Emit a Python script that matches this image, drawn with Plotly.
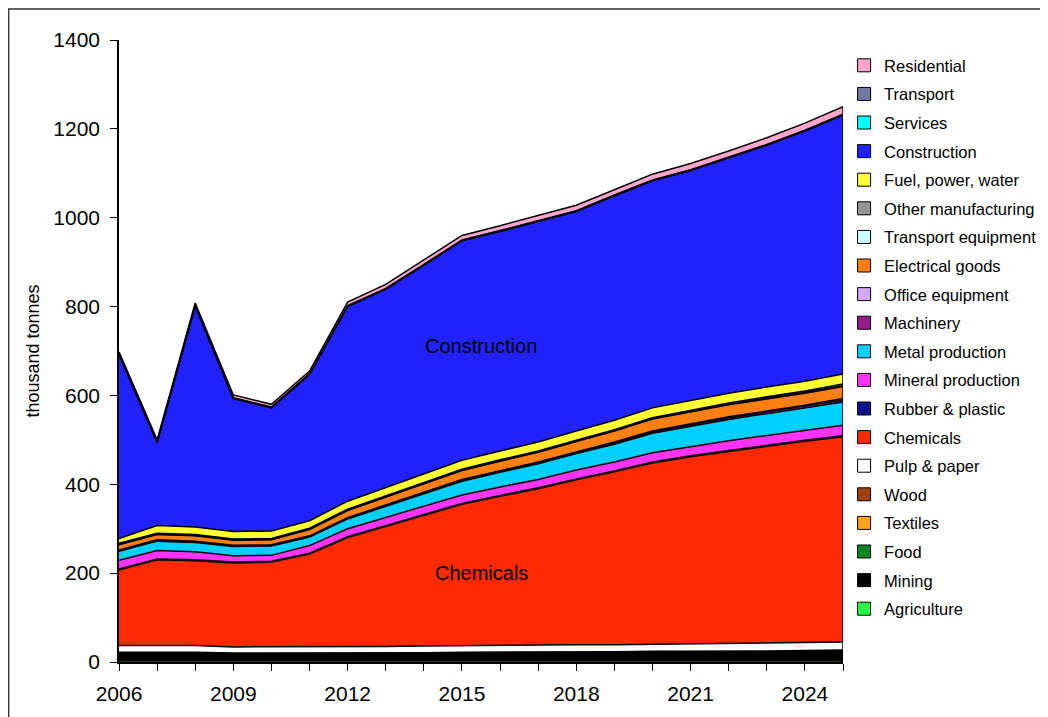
import plotly.graph_objects as go

years = list(range(2006, 2026))

agriculture = [2] * 20
mining = [17, 17, 17, 15, 15, 15, 15, 16, 16, 17, 17, 18, 18, 18, 19, 19, 20, 20, 21, 22]
food = [1.5] * 20
textiles = [0.5] * 20
wood = [1] * 20
pulp_paper = [15, 15, 15, 14, 14, 14, 14, 14, 15, 15, 15, 15, 16, 16, 16, 16, 17, 17, 17, 18]
chemicals = [170, 193, 191, 189, 191, 209, 246, 270, 294, 318, 336, 352, 371, 389, 408, 422, 432, 444, 454, 462]
rubber_plastic = [2] * 20
mineral = [20, 19, 18, 14, 13, 17, 18, 18, 18, 19, 19, 19, 20, 20, 21, 21, 22, 22, 23, 24]
metal = [20, 21, 21, 21, 21, 19, 22, 25, 28, 31, 33, 35, 37, 40, 44, 46, 48, 49, 50, 52]
machinery = [2, 2, 2, 2, 2, 2, 2, 2, 3, 3, 3, 3, 3, 3, 3, 3, 4, 4, 4, 5]
office_eq = [1, 1, 1, 1, 1, 1, 1, 1, 1, 1, 1, 1, 1, 2, 2, 2, 2, 2, 2, 3]
electrical = [12, 12, 12, 11, 11, 14, 16, 18, 19, 20, 21, 22, 23, 25, 27, 27, 27, 27, 27, 27]
transport_eq = [1, 1, 1, 1, 1, 1, 1, 1, 1, 1, 1, 1, 1, 1, 1, 1, 1, 2, 2, 2]
other_manuf = [2, 2, 2, 2, 2, 2, 2, 2, 2, 2, 2, 2, 2, 2, 2, 2, 3, 3, 3, 4]
fuel = [11, 17, 17, 17, 17, 17, 18, 19, 19, 20, 20, 20, 21, 21, 22, 22, 22, 22, 22, 22]
construction = [414, 187, 497, 299, 277, 329, 438, 446, 470, 494, 494, 497, 494, 505, 511, 518, 529, 544, 563, 583]
services = [1] * 20
transport = [1] * 20
residential = [4, 4, 5, 6, 6, 6, 8, 9, 10, 10, 11, 11, 12, 12, 13, 14, 14, 15, 16, 17]

series = [
    ("Agriculture", agriculture, "#22FF44"),
    ("Mining", mining, "#000000"),
    ("Food", food, "#0A8A1E"),
    ("Textiles", textiles, "#FFA31A"),
    ("Wood", wood, "#A5420C"),
    ("Pulp & paper", pulp_paper, "#FFFFFF"),
    ("Chemicals", chemicals, "#FF2A00"),
    ("Rubber & plastic", rubber_plastic, "#0C108C"),
    ("Mineral production", mineral, "#FF33FF"),
    ("Metal production", metal, "#00D0FF"),
    ("Machinery", machinery, "#931C8E"),
    ("Office equipment", office_eq, "#D2A8F8"),
    ("Electrical goods", electrical, "#FF7F11"),
    ("Transport equipment", transport_eq, "#CCFFFF"),
    ("Other manufacturing", other_manuf, "#969696"),
    ("Fuel, power, water", fuel, "#FFFF33"),
    ("Construction", construction, "#2222FF"),
    ("Services", services, "#00FFFF"),
    ("Transport", transport, "#7777AA"),
    ("Residential", residential, "#FFA6CC"),
]

FONT = "Liberation Sans, Arial, sans-serif"

fig = go.Figure()
for name, vals, col in series:
    fig.add_trace(go.Scatter(
        x=years, y=vals, name=name, stackgroup="one", mode="lines",
        line=dict(color="#000000", width=1.5), fillcolor=col,
        showlegend=False, hoverinfo="x+y+name",
    ))

# right-hand closing edge of the stacked area
total_last = sum(vals[-1] for _, vals, _ in series)
fig.add_trace(go.Scatter(x=[years[-1], years[-1]], y=[0, total_last], mode="lines",
                         line=dict(color="#000000", width=1.5), showlegend=False,
                         hoverinfo="skip"))

# legend entries with square symbols (top series first)
for name, vals, col in reversed(series):
    fig.add_trace(go.Scatter(
        x=[None], y=[None], mode="markers", name=name, legendgroup=name,
        marker=dict(symbol="square", size=13, color=col, line=dict(color="#000000", width=1)),
        showlegend=True,
    ))

fig.add_annotation(x=2015.5, y=711, text="Construction", showarrow=False,
                   font=dict(family=FONT, size=20, color="#000000"))
fig.add_annotation(x=2015.5, y=200, text="Chemicals", showarrow=False,
                   font=dict(family=FONT, size=20, color="#000000"))

# outer chart border
fig.add_shape(type="rect", xref="paper", yref="paper",
              x0=-0.1525, x1=1.3, y0=-0.12, y1=1.0498,
              line=dict(color="#333333", width=1.5), fillcolor="rgba(0,0,0,0)", layer="below")

fig.update_layout(
    width=1040, height=709,
    margin=dict(l=111, r=205, t=32, b=55, autoexpand=False),
    paper_bgcolor="#FFFFFF", plot_bgcolor="#FFFFFF",
    font=dict(family=FONT, size=20, color="#000000"),
    showlegend=True,
    legend=dict(
        x=1.0015, xanchor="left", y=0.987, yanchor="top",
        traceorder="grouped", tracegroupgap=4.15,
        font=dict(family=FONT, size=16.5, color="#000000"),
        bgcolor="rgba(0,0,0,0)", itemclick=False,
    ),
    xaxis=dict(
        range=[2006, 2025], tickmode="array", tickvals=[2006, 2009, 2012, 2015, 2018, 2021, 2024],
        ticktext=["2006", "2009", "2012", "2015", "2018", "2021", "2024"],
        ticks="outside", ticklen=7, tickcolor="#000000", tickwidth=1,
        ticklabelstandoff=5,
        minor=dict(tickmode="linear", dtick=1, tick0=2006, ticks="outside", ticklen=7,
                   tickcolor="#000000", tickwidth=1, showgrid=False),
        showline=True, linecolor="#000000", linewidth=1.5,
        showgrid=False, zeroline=False,
        tickfont=dict(family=FONT, size=21, color="#000000"),
    ),
    yaxis=dict(
        range=[0, 1400], dtick=200, tick0=0,
        ticks="outside", ticklen=7, tickcolor="#000000", tickwidth=1,
        ticklabelstandoff=6,
        showline=True, linecolor="#000000", linewidth=1.5,
        showgrid=False, zeroline=False,
        tickfont=dict(family=FONT, size=21, color="#000000"),
        title=dict(text="thousand tonnes", font=dict(family=FONT, size=18, color="#000000"),
                   standoff=9),
    ),
)

fig.write_html("out.html")
